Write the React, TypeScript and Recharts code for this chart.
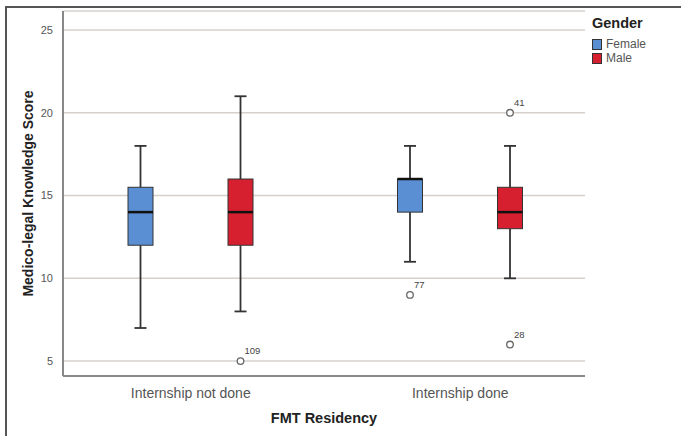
import React from 'react';
import { ComposedChart, Bar, XAxis, YAxis, CartesianGrid, Legend } from 'recharts';

const categories = ['Internship not done', 'Internship done'];

const femaleMin = [7, 11];
const femaleQ1 = [12, 14];
const femaleMedian = [14, 16];
const femaleQ3 = [15.5, 16];
const femaleMax = [18, 18];
const femaleOutliers = [[], [{ value: 9, id: '77' }]];

const maleMin = [8, 10];
const maleQ1 = [12, 13];
const maleMedian = [14, 14];
const maleQ3 = [16, 15.5];
const maleMax = [21, 18];
const maleOutliers = [[{ value: 5, id: '109' }], [{ value: 20, id: '41' }, { value: 6, id: '28' }]];

const yTicks = [5, 10, 15, 20, 25];

const FEMALE = '#5b8fd3';
const MALE = '#d7202f';
const FONT = '"Liberation Sans", Arial, sans-serif';

const data = categories.map((name, i) => ({
  name,
  female: { min: femaleMin[i], q1: femaleQ1[i], median: femaleMedian[i], q3: femaleQ3[i], max: femaleMax[i], outliers: femaleOutliers[i] },
  male: { min: maleMin[i], q1: maleQ1[i], median: maleMedian[i], q3: maleQ3[i], max: maleMax[i], outliers: maleOutliers[i] },
}));

// draws whiskers, box, median and outliers from the bar's [min, max] rectangle
const BoxShape = (props: any) => {
  const { x, y, width, height, payload, group, fill } = props;
  const s = payload[group];
  const top = Math.min(y, y + height);
  const h = Math.abs(height);
  const py = (v: number) => top + ((s.max - v) / (s.max - s.min)) * h;
  const cx = x + width / 2;
  const cap = 6;
  return (
    <g>
      <line x1={cx} x2={cx} y1={py(s.max)} y2={py(s.q3)} stroke="#333" strokeWidth={1.8} />
      <line x1={cx} x2={cx} y1={py(s.q1)} y2={py(s.min)} stroke="#333" strokeWidth={1.8} />
      <line x1={cx - cap} x2={cx + cap} y1={py(s.max)} y2={py(s.max)} stroke="#333" strokeWidth={1.8} />
      <line x1={cx - cap} x2={cx + cap} y1={py(s.min)} y2={py(s.min)} stroke="#333" strokeWidth={1.8} />
      <rect x={x} y={py(s.q3)} width={width} height={py(s.q1) - py(s.q3)} fill={fill} stroke="#333" strokeWidth={1} />
      <line x1={x} x2={x + width} y1={py(s.median)} y2={py(s.median)} stroke="#111" strokeWidth={2.5} />
      {s.outliers.map((o: any) => (
        <g key={o.id}>
          <circle cx={cx} cy={py(o.value)} r={3.3} fill="#fff" stroke="#666" strokeWidth={1.3} />
          <text x={cx + 4} y={py(o.value) - 7} fontSize={9.5} fill="#444" fontFamily={FONT}>{o.id}</text>
        </g>
      ))}
    </g>
  );
};

const LegendBox = (props: any) => (
  <div style={{ fontFamily: FONT }}>
    <div style={{ fontWeight: 'bold', fontSize: 14.5, color: '#222', lineHeight: '18px', marginBottom: 5 }}>Gender</div>
    {(props.payload || []).map((p: any) => (
      <div key={p.value} style={{ display: 'flex', alignItems: 'center', height: 14 }}>
        <span style={{ display: 'inline-block', width: 8, height: 9, background: p.color, border: '1px solid #333', marginRight: 4 }} />
        <span style={{ fontSize: 12, color: '#555' }}>{p.value}</span>
      </div>
    ))}
  </div>
);

export default function App() {
  return (
    <div style={{ position: 'absolute', left: 0, top: 0, width: 681, height: 436, background: '#fff' }}>
      <div style={{ position: 'absolute', left: 5, top: 6, right: 0, bottom: -10, borderTop: '2px solid #555', borderLeft: '2px solid #555' }} />
      <ComposedChart width={681} height={436} data={data} margin={{ top: 11, right: 96, bottom: 30, left: 0 }} barSize={25} barGap={75}>
        <CartesianGrid vertical={false} stroke="#d6d0cc" strokeWidth={1.5} />
        <XAxis
          dataKey="name"
          tickLine={false}
          height={30}
          padding={{ left: -7, right: -10 }}
          axisLine={{ stroke: '#888', strokeWidth: 2 }}
          tick={{ fontSize: 14, fill: '#555', fontFamily: FONT }}
          tickMargin={6}
          label={{ value: 'FMT Residency', position: 'bottom', offset: 7, fontSize: 14.5, fontWeight: 'bold', fill: '#222', fontFamily: FONT }}
        />
        <YAxis
          width={63}
          domain={[4.1, 26.15]}
          ticks={yTicks}
          allowDataOverflow
          tickLine={false}
          axisLine={{ stroke: '#888', strokeWidth: 2 }}
          tick={{ fontSize: 11, fill: '#555', fontFamily: FONT }}
          tickMargin={4}
          label={{ value: 'Medico-legal Knowledge Score', angle: -90, position: 'center', dx: -3, fontSize: 14, fontWeight: 'bold', fill: '#222', fontFamily: FONT }}
        />
        <Legend
          layout="vertical"
          align="center"
          verticalAlign="middle"
          content={<LegendBox />}
          wrapperStyle={{ left: 592, top: 14, width: 85, height: 60 }}
        />
        <Bar
          name="Female"
          dataKey={(d: any) => [d.female.min, d.female.max]}
          fill={FEMALE}
          isAnimationActive={false}
          shape={(p: any) => <BoxShape {...p} group="female" fill={FEMALE} />}
        />
        <Bar
          name="Male"
          dataKey={(d: any) => [d.male.min, d.male.max]}
          fill={MALE}
          isAnimationActive={false}
          shape={(p: any) => <BoxShape {...p} group="male" fill={MALE} />}
        />
      </ComposedChart>
    </div>
  );
}
